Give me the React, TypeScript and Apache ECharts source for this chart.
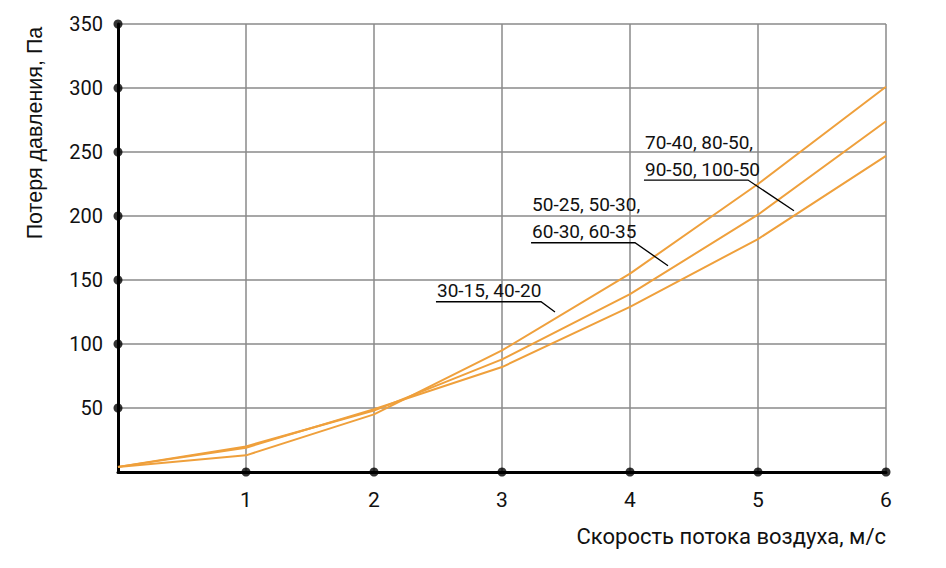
import React, { useEffect, useRef } from "react";
import * as echarts from "echarts";

// Data
const xValues = [0, 1, 2, 3, 4, 5, 6];
const seriesSmall = [4, 13, 45, 95, 155, 225, 301]; // 30-15, 40-20
const seriesMedium = [4, 20, 48, 88, 139, 201, 274]; // 50-25 ... 60-35
const seriesLarge = [4, 19, 49, 82, 129, 182, 247]; // 70-40 ... 100-50
const yTickValues = [50, 100, 150, 200, 250, 300, 350];
const xTickValues = [1, 2, 3, 4, 5, 6];
const labelSmall = ["30-15, 40-20"];
const labelMedium = ["50-25, 50-30,", "60-30, 60-35"];
const labelLarge = ["70-40, 80-50,", "90-50, 100-50"];

const xTitle = "Скорость потока воздуха, м/с";
const yTitle = "Потеря давления, Па";

// Annotation anchors (data coordinates): underline start, underline end x, leader end
const annotations = [
  { lines: labelSmall, start: [2.484, 133], endX: 3.305, leader: [3.414, 125] },
  { lines: labelMedium, start: [3.227, 179.1], endX: 4.039, leader: [4.297, 161.2] },
  { lines: labelLarge, start: [4.109, 228.1], endX: 4.922, leader: [5.281, 204.1] },
];

const ORANGE = "#EFA03C";
const FONT = "Roboto";

export default function App() {
  const ref = useRef<HTMLDivElement>(null);
  useEffect(() => {
    if (!ref.current) return;
    const chart = echarts.init(ref.current, undefined, { renderer: "svg" });
    const lineSeries = [seriesSmall, seriesMedium, seriesLarge].map((s) => ({
      type: "line",
      data: xValues.map((x, i) => [x, s[i]]),
      showSymbol: false,
      lineStyle: { color: ORANGE, width: 2 },
      itemStyle: { color: ORANGE },
      silent: true,
      z: 3,
    }));
    const dots = [
      ...yTickValues.map((v) => [0, v]),
      ...xTickValues.map((v) => [v, 0]),
    ];
    chart.setOption({
      animation: false,
      grid: { left: 118, right: 60, top: 24, bottom: 96 },
      xAxis: {
        type: "value",
        min: 0,
        max: 6,
        interval: 1,
        axisLine: { show: true, onZero: false, lineStyle: { color: "#000", width: 3 } },
        axisTick: { show: false },
        splitLine: { show: true, lineStyle: { color: "#8a8a8a", width: 1.5 } },
        axisLabel: {
          margin: 17,
          fontFamily: FONT,
          fontSize: 21,
          color: "#111",
          formatter: (v: number) => (v === 0 ? "" : String(v)),
        },
      },
      yAxis: {
        type: "value",
        min: 0,
        max: 350,
        interval: 50,
        axisLine: { show: true, onZero: false, lineStyle: { color: "#000", width: 3 } },
        axisTick: { show: false },
        splitLine: { show: true, lineStyle: { color: "#8a8a8a", width: 1.5 } },
        axisLabel: {
          margin: 15,
          fontFamily: FONT,
          fontSize: 20,
          color: "#111",
          formatter: (v: number) => (v === 0 ? "" : String(v)),
        },
      },
      series: [
        ...lineSeries,
        {
          type: "scatter",
          data: dots,
          symbol: "circle",
          symbolSize: 9,
          itemStyle: { color: "#000" },
          clip: false,
          silent: true,
          z: 5,
        },
      ],
    });

    const graphics: any[] = [];
    annotations.forEach((a, idx) => {
      const p0 = chart.convertToPixel({ gridIndex: 0 }, a.start) as number[];
      const p1 = chart.convertToPixel({ gridIndex: 0 }, [a.endX, a.start[1]]) as number[];
      const p2 = chart.convertToPixel({ gridIndex: 0 }, a.leader) as number[];
      graphics.push({
        type: "polyline",
        id: "ann" + idx,
        shape: { points: [p0, p1, p2] },
        style: { stroke: "#000", lineWidth: 1.3, fill: null },
        z: 10,
      });
      const n = a.lines.length;
      a.lines.forEach((t, j) => {
        graphics.push({
          type: "text",
          id: "annt" + idx + "_" + j,
          x: p0[0] + 1,
          y: p0[1] - 11 - (n - 1 - j) * 27,
          style: {
            text: t,
            font: `19px ${FONT}`,
            fill: "#111",
            textAlign: "left",
            textVerticalAlign: "middle",
          },
          z: 10,
        });
      });
    });
    graphics.push({
      type: "text",
      id: "xtitle",
      x: 886,
      y: 536,
      style: {
        text: xTitle,
        font: `22px ${FONT}`,
        fill: "#111",
        textAlign: "right",
        textVerticalAlign: "middle",
      },
    });
    graphics.push({
      type: "text",
      id: "ytitle",
      x: 35,
      y: 133,
      rotation: Math.PI / 2,
      style: {
        text: yTitle,
        font: `21.5px "Liberation Sans"`,
        fill: "#111",
        textAlign: "center",
        textVerticalAlign: "middle",
      },
    });
    chart.setOption({ graphic: graphics });

    return () => chart.dispose();
  }, []);
  return (
    <div
      ref={ref}
      style={{ position: "fixed", left: 0, top: 0, width: 946, height: 568, background: "#fff" }}
    />
  );
}
